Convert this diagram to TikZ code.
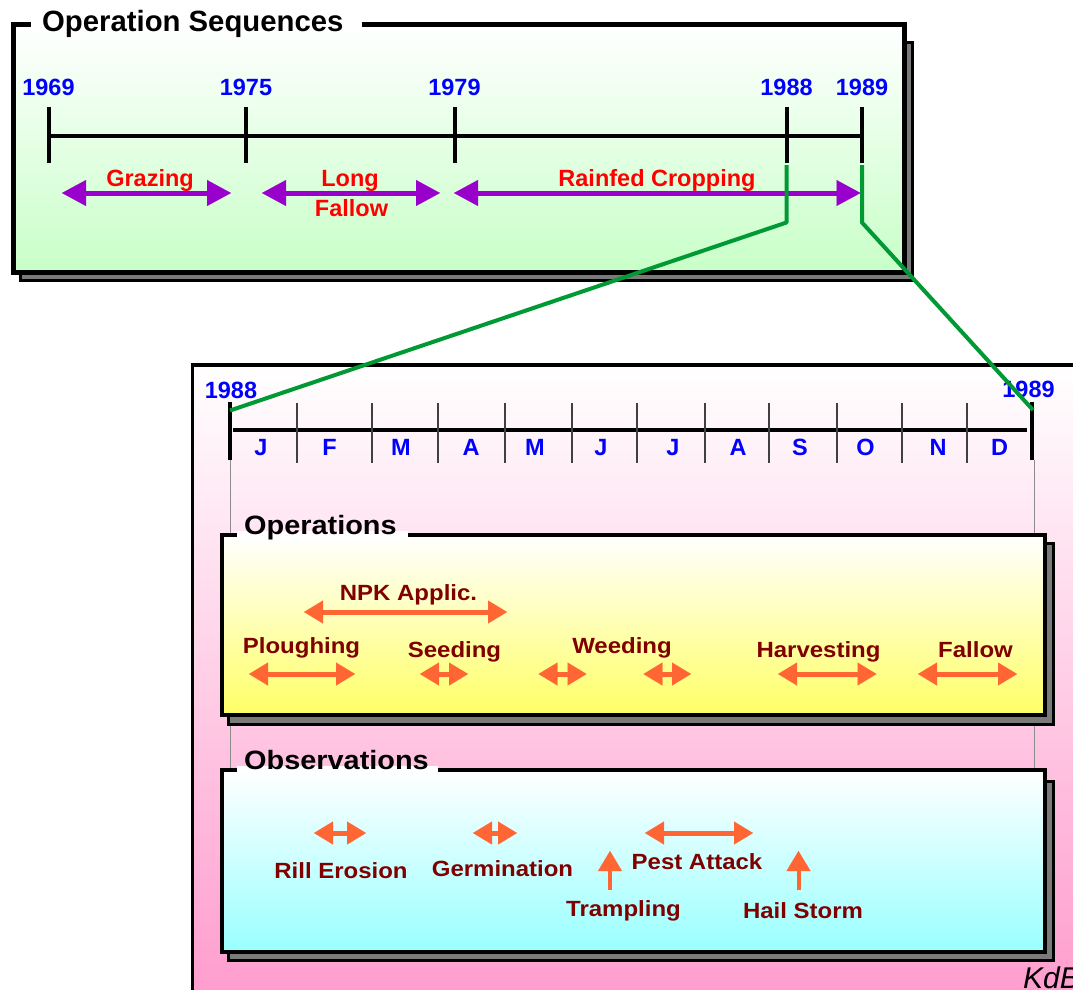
\documentclass[tikz,border=0pt]{standalone}
\usepackage{fontspec}
\setmainfont{Liberation Sans}
\newfontfamily\widesans[FakeStretch=1.09]{Liberation Sans}
\usetikzlibrary{arrows.meta}
\definecolor{yearblue}{HTML}{0000FF}
\definecolor{labred}{HTML}{FF0000}
\definecolor{purp}{HTML}{9900CC}
\definecolor{grn}{HTML}{009933}
\definecolor{darkred}{HTML}{800000}
\definecolor{orng}{HTML}{FF6633}
\definecolor{mint}{HTML}{C8FFC8}
\definecolor{pinkb}{HTML}{FF99CC}
\definecolor{yel}{HTML}{FFFF66}
\definecolor{cyanb}{HTML}{99FFFF}
\definecolor{shadowgray}{HTML}{7A7A7A}
\tikzset{
  yearlab/.style={font=\fontsize{23.5}{25}\selectfont\bfseries, text=yearblue, anchor=base, inner sep=0pt},
  redlab/.style={font=\fontsize{23.5}{25}\selectfont\bfseries, text=labred, anchor=base, inner sep=0pt},
  oplab/.style={font=\widesans\fontsize{22}{24}\selectfont\bfseries, text=darkred, anchor=base, inner sep=0pt},
  bigtitle/.style={font=\fontsize{29.3}{31}\selectfont\bfseries, anchor=base west, inner sep=0pt},
  sectitle/.style={font=\widesans\fontsize{26.5}{28}\selectfont\bfseries, anchor=base west, inner sep=0pt},
  kdb/.style={font=\fontsize{30}{32}\selectfont\itshape, anchor=base west, inner sep=0pt},
  shadowbox/.style={fill=shadowgray, draw=black, line width=3pt},
  topbox/.style={draw=black, line width=5pt, top color=white, bottom color=mint},
  opsbox/.style={draw=black, line width=4pt, top color=white, bottom color=yel},
  obsbox/.style={draw=black, line width=4pt, top color=white, bottom color=cyanb},
  pinkbox/.style={draw=black, line width=3.5pt, top color=white, bottom color=pinkb},
  axisline/.style={draw=black, line width=4pt},
  monthtick/.style={draw=black!75, line width=1.3pt},
  guideline/.style={draw=black!45, line width=1pt},
  zoomline/.style={draw=grn, line width=4pt, line join=round},
  parrow/.style={draw=purp, line width=5pt,
    {Triangle[length=24pt,width=26pt,line width=0.1pt]}-{Triangle[length=24pt,width=26pt,line width=0.1pt]}},
  oarrow/.style={draw=orng, line width=5pt,
    {Triangle[length=19pt,width=23pt,line width=0.1pt]}-{Triangle[length=19pt,width=23pt,line width=0.1pt]}},
  uparrow/.style={draw=orng, line width=4pt, -{Triangle[length=20pt,width=24pt,line width=0.1pt]}},
}
\begin{document}
\begin{tikzpicture}[x=1pt,y=-1pt]
\useasboundingbox (0,0) rectangle (1073,989);

% ---------------- lower (zoomed) panel ----------------
\path[pinkbox] (192.5,365) rectangle (1110,1020);
\draw[guideline] (230,460) -- (230,770);
\draw[guideline] (1034,460) -- (1034,770);

% month axis
\coordinate (m0t) at (230,402); \coordinate (m0b) at (230,460);
\coordinate (m12t) at (1032,402); \coordinate (m12b) at (1032,460);
\draw[axisline, line width=4.5pt] (m0t) -- (m0b);
\draw[axisline, line width=4.5pt] (m12t) -- (m12b);
\coordinate (ax1) at (233,430); \coordinate (ax2) at (1027,430);
\draw[axisline] (ax1) -- (ax2);
\foreach \x in {297,372,438,505,572,637,705,769,837,902,967}
  \draw[monthtick] (\x,403) -- (\x,463);
\node[yearlab] (b1988) at (231,398) {1988};
\node[yearlab] (b1989) at (1028.5,397) {1989};
\foreach \x/\m/\n in {261/J/mj,329.5/F/mf,401/M/mm,471/A/ma,535/M/mmy,601/J/mjn,673/J/mjl,738/A/mau,800/S/ms,865.5/O/mo,938/N/mn,999.5/D/md}
  \node[yearlab] (\n) at (\x,455) {\m};

% Operations box
\path[shadowbox] (228,543) rectangle (1053,724);
\path[opsbox] (222,535) rectangle (1045,715);
\fill[white] (237,531) rectangle (408,538.5);
\node[sectitle] (opstitle) at (244,534) {Operations};

\node[oplab] (npk) at (408.5,600) {NPK Applic.};
\coordinate (npk1) at (304,612); \coordinate (npk2) at (507,612);
\draw[oarrow] (npk1) -- (npk2);
\node[oplab] (plough) at (301.5,653) {Ploughing};
\coordinate (pl1) at (249,674); \coordinate (pl2) at (355,674);
\draw[oarrow] (pl1) -- (pl2);
\node[oplab] (seed) at (454.5,657) {Seeding};
\coordinate (se1) at (420,674); \coordinate (se2) at (468,674);
\draw[oarrow] (se1) -- (se2);
\node[oplab] (weed) at (622,653) {Weeding};
\coordinate (we1) at (538.5,674); \coordinate (we2) at (586.5,674);
\draw[oarrow] (we1) -- (we2);
\coordinate (we3) at (643.5,674); \coordinate (we4) at (691,674);
\draw[oarrow] (we3) -- (we4);
\node[oplab] (harv) at (818.5,657) {Harvesting};
\coordinate (ha1) at (778,674); \coordinate (ha2) at (876.5,674);
\draw[oarrow] (ha1) -- (ha2);
\node[oplab] (fallow) at (975.5,657) {Fallow};
\coordinate (fa1) at (918,674); \coordinate (fa2) at (1017,674);
\draw[oarrow] (fa1) -- (fa2);

% Observations box
\path[shadowbox] (228,781) rectangle (1053,960);
\path[obsbox] (222,770) rectangle (1045,952);
\fill[white] (237,766) rectangle (438,773);
\node[sectitle] (obstitle) at (244,769) {Observations};

\coordinate (ri1) at (314,833); \coordinate (ri2) at (366,833);
\draw[oarrow] (ri1) -- (ri2);
\node[oplab] (rill) at (341,878) {Rill Erosion};
\coordinate (ge1) at (473,833); \coordinate (ge2) at (517,833);
\draw[oarrow] (ge1) -- (ge2);
\node[oplab] (germ) at (502.5,876.5) {Germination};
\coordinate (tr1) at (610,890); \coordinate (tr2) at (610,851);
\draw[uparrow] (tr1) -- (tr2);
\node[oplab] (tramp) at (623.5,916) {Trampling};
\coordinate (pe1) at (645,833); \coordinate (pe2) at (753,833);
\draw[oarrow] (pe1) -- (pe2);
\node[oplab] (pest) at (697,869) {Pest Attack};
\coordinate (hs1) at (798.5,890); \coordinate (hs2) at (798.5,851);
\draw[uparrow] (hs1) -- (hs2);
\node[oplab] (hail) at (803,918) {Hail Storm};

\node[kdb] (kdb) at (1023,988) {KdB};

% ---------------- upper panel ----------------
\path[shadowbox] (20,42) rectangle (912,280.5);
\path[topbox] (13,24.5) rectangle (904,272.5);
\fill[white] (31,14) rectangle (362,31);
\node[bigtitle] (title) at (42,31) {Operation Sequences};

\coordinate (tl1) at (48.5,136); \coordinate (tl2) at (862,136);
\draw[axisline] (tl1) -- (tl2);
\foreach \x in {48.5,246,454.5,786.5,862}
  \draw[axisline] (\x,107) -- (\x,163);
\node[yearlab] (y1969) at (48.5,95) {1969};
\node[yearlab] (y1975) at (246,95) {1975};
\node[yearlab] (y1979) at (454.5,95) {1979};
\node[yearlab] (y1988) at (786.5,95) {1988};
\node[yearlab] (y1989) at (862,95) {1989};

\coordinate (gr1) at (62,193); \coordinate (gr2) at (231,193);
\draw[parrow] (gr1) -- (gr2);
\coordinate (lf1) at (262,193); \coordinate (lf2) at (440,193);
\draw[parrow] (lf1) -- (lf2);
\coordinate (rc1) at (454,193); \coordinate (rc2) at (860.5,193);
\draw[parrow] (rc1) -- (rc2);
\node[redlab] (graz) at (150,186) {Grazing};
\node[redlab] (long) at (350,186) {Long};
\node[redlab] (fall) at (351.5,216) {Fallow};
\node[redlab] (rain) at (657,186) {Rainfed Cropping};

% zoom connectors
\coordinate (z1a) at (786.5,165); \coordinate (z1b) at (786.5,222.5);
\coordinate (z2a) at (862,165); \coordinate (z2b) at (862,222.5);
\coordinate (z1c) at (230,410.5); \coordinate (z2c) at (1033,410);
\draw[zoomline] (z1a) -- (z1b) -- (z1c);
\draw[zoomline] (z2a) -- (z2b) -- (z2c);
\end{tikzpicture}
\end{document}
